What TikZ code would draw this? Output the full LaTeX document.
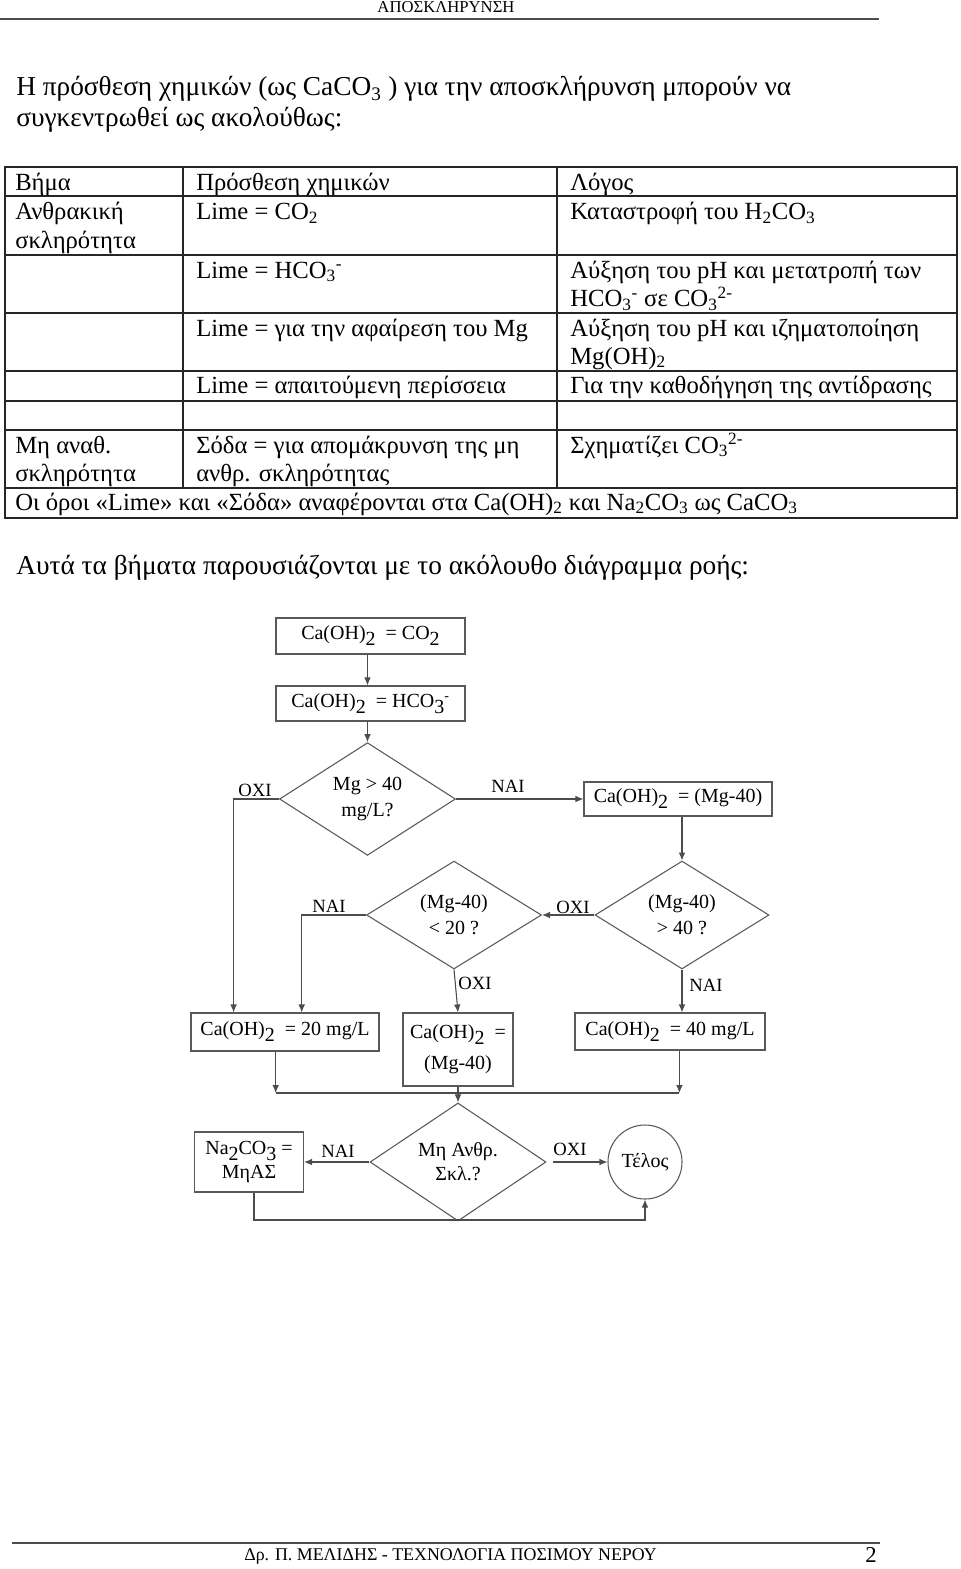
\documentclass[tikz,border=0pt]{standalone}
\usepackage{fontspec}
\setmainfont{Liberation Serif}
\usepackage{graphicx}
\usetikzlibrary{arrows.meta,shapes.geometric}
\newcommand\dn[1]{\raisebox{-0.3em}{#1}}
\newcommand\ssub[1]{\textsubscript{#1}}
\newcommand\ssup[1]{\textsuperscript{#1}}
\begin{document}
\begin{tikzpicture}[x=0.75pt,y=-0.75pt,
  tline/.style={line width=1.1pt,black!85},
  tcell/.style={anchor=base west,inner sep=0pt,font=\fontsize{18.5}{22}\selectfont},
  body/.style={anchor=base west,inner sep=0pt,font=\fontsize{20.5}{24}\selectfont},
  fbox/.style={draw=black!65,line width=0.8pt,inner sep=0pt,align=center,font=\fontsize{15}{19}\selectfont},
  fdia/.style={draw=black!65,line width=0.8pt,shape=diamond,inner sep=0pt,align=center,font=\fontsize{15}{19.5}\selectfont},
  flab/.style={inner sep=0pt,font=\fontsize{14}{16}\selectfont},
  conn/.style={draw=black!70,line width=0.8pt},
  arr/.style={conn,-{Latex[length=6pt,width=5pt]}}
]
\useasboundingbox (0,0) rectangle (960,1569);
% header
\node[anchor=base,inner sep=0pt,font=\fontsize{12.5}{14}\selectfont] (hdr) at (446,13) {ΑΠΟΣΚΛΗΡΥΝΣΗ};
\draw[line width=1.1pt,black!70] (0,19) -- (879,19);
% intro
\node[body] (p1) at (16,96) {Η πρόσθεση χημικών (ως CaCO\ssub{3} ) για την αποσκλήρυνση μπορούν να};
\node[body] (p2) at (16,127) {συγκεντρωθεί ως ακολούθως:};
% table
\draw[tline] (5,167) rectangle (957,518);
\foreach \yy in {196,255,313,371,401,430,488} \draw[tline] (5,\yy) -- (957,\yy);
\draw[tline] (183,167) -- (183,488);
\draw[tline] (557,167) -- (557,488);
\node[tcell] (t11) at (15,190.7) {Βήμα};
\node[tcell] (t12) at (196,190.7) {Πρόσθεση χημικών};
\node[tcell] (t13) at (570,190.7) {Λόγος};
\node[tcell] (t21) at (15,220) {Ανθρακική};
\node[tcell] (t21b) at (15,248.3) {σκληρότητα};
\node[tcell] (t22) at (196,220) {Lime = CO\ssub{2}};
\node[tcell] (t23) at (570,220) {Καταστροφή του H\ssub{2}CO\ssub{3}};
\node[tcell] (t32) at (196,278.3) {Lime = HCO\ssub{3}\ssup{-}};
\node[tcell] (t33) at (570,278.3) {Αύξηση του pH και μετατροπή των};
\node[tcell] (t33b) at (570,306.6) {HCO\ssub{3}\ssup{-} σε CO\ssub{3}\ssup{2-}};
\node[tcell] (t42) at (196,336) {Lime = για την αφαίρεση του Mg};
\node[tcell] (t43) at (570,336) {Αύξηση του pH και ιζηματοποίηση};
\node[tcell] (t43b) at (570,364.3) {Mg(OH)\ssub{2}};
\node[tcell] (t52) at (196,393.3) {Lime = απαιτούμενη περίσσεια};
\node[tcell] (t53) at (570,393.3) {Για την καθοδήγηση της αντίδρασης};
\node[tcell] (t71) at (15,453.3) {Μη αναθ.};
\node[tcell] (t71b) at (15,481.7) {σκληρότητα};
\node[tcell] (t72) at (196,453.3) {Σόδα = για απομάκρυνση της μη};
\node[tcell] (t72b) at (196,481.7) {ανθρ. σκληρότητας};
\node[tcell] (t73) at (570,453.3) {Σχηματίζει CO\ssub{3}\ssup{2-}};
\node[tcell] (t81) at (15,510) {Οι όροι «Lime» και «Σόδα» αναφέρονται στα Ca(OH)\ssub{2} και Na\ssub{2}CO\ssub{3} ως CaCO\ssub{3}};
\node[body] (p3) at (16,574) {Αυτά τα βήματα παρουσιάζονται με το ακόλουθο διάγραμμα ροής:};
% flowchart
\node[fbox,minimum width=141.75pt,minimum height=27pt] (B1) at (370.5,636) {Ca(OH)\dn{2}\ \ = CO\dn{2}};
\node[fbox,minimum width=141.75pt,minimum height=26.25pt] (B2) at (370.5,703.5) {Ca(OH)\dn{2}\ \ = HCO\dn{3}\ssup{-}};
\node[fdia,minimum width=132pt,minimum height=66pt] (D1) at (367.5,799) {Mg > 40\\mg/L?};
\node[fbox,minimum width=141pt,minimum height=25.5pt] (B3) at (678,799) {Ca(OH)\dn{2}\ \ = (Mg-40)};
\node[fdia,minimum width=131.25pt,minimum height=66.75pt] (D2) at (454,915) {(Mg-40)\\< 20 ?};
\node[fdia,minimum width=130.5pt,minimum height=66.75pt] (D3) at (682,915) {(Mg-40)\\> 40 ?};
\node[fbox,minimum width=141pt,minimum height=28.5pt] (B4) at (285,1032) {Ca(OH)\dn{2}\ \ = 20 mg/L};
\node[fbox,minimum width=82.5pt,minimum height=54.75pt,font=\fontsize{15}{23}\selectfont] (B5) at (458,1049.5) {Ca(OH)\dn{2}\ \ =\\(Mg-40)};
\node[fbox,minimum width=142.5pt,minimum height=27.75pt] (B6) at (670,1031.5) {Ca(OH)\dn{2}\ \ = 40 mg/L};
\node[fdia,minimum width=132pt,minimum height=67.5pt,font=\fontsize{15}{18}\selectfont] (D4) at (458,1162) {Μη Ανθρ.\\Σκλ.?};
\node[fbox,minimum width=81.75pt,minimum height=45pt,font=\fontsize{15}{17.5}\selectfont] (B7) at (249,1162) {Na\dn{2}CO\dn{3} =\\ΜηΑΣ};
\node[draw=black!65,line width=0.8pt,circle,minimum size=55.5pt,inner sep=0pt,font=\fontsize{15}{19}\selectfont] (C) at (645,1162) {Τέλος};
\coordinate (jL) at (275.7,1093);
\coordinate (jR) at (679.4,1093);
\coordinate (kL) at (254,1220);
\coordinate (kR) at (645,1220);
% connectors
\draw[arr] (B1.south -| D1.north) -- (B2.north -| D1.north);
\draw[arr] (B2.south -| D1.north) -- (D1.north);
\draw[arr] (D1.east) -- (B3.west);
\draw[arr] (D1.west) -- (233.6,799) -- (B4.north -| 233.6,0);
\draw[arr] (B3.south -| D3.north) -- (D3.north);
\draw[arr] (D3.west) -- (D2.east);
\draw[arr] (D2.west) -- (301.7,915) -- (B4.north -| 301.7,0);
\draw[arr] (D2.south) -- (B5.north);
\draw[arr] (D3.south) -- (B6.north -| D3.south);
\draw[arr] (B4.south -| jL) -- (jL);
\draw[arr] (B6.south -| jR) -- (jR);
\draw[conn] (jL) -- (jR);
\draw[arr] (B5.south) -- (D4.north);
\draw[arr] (D4.west) -- (B7.east);
\draw[arr] ([xshift=4.5pt]D4.east) -- (C.west);
\draw[arr] (B7.south -| kL) -- (kL) -- (kR) -- (C.south);
% labels
\node[flab] (lOXI1) at (255,790) {ΟΧΙ};
\node[flab] (lNAI1) at (508,786) {ΝΑΙ};
\node[flab] (lNAI2) at (329,906) {ΝΑΙ};
\node[flab] (lOXI2) at (573,907) {ΟΧΙ};
\node[flab] (lOXI3) at (475,983) {ΟΧΙ};
\node[flab] (lNAI3) at (706,985) {ΝΑΙ};
\node[flab] (lNAI4) at (338,1151) {ΝΑΙ};
\node[flab] (lOXI4) at (570,1149) {ΟΧΙ};
% footer
\draw[line width=1.1pt,black!70] (12,1543) -- (880,1543);
\node[anchor=base west,inner sep=0pt,font=\fontsize{13.4}{15}\selectfont] (ftr) at (244,1560) {Δρ. Π. ΜΕΛΙΔΗΣ - ΤΕΧΝΟΛΟΓΙΑ ΠΟΣΙΜΟΥ ΝΕΡΟΥ};
\node[anchor=base east,inner sep=0pt,font=\fontsize{17}{20}\selectfont] (pg) at (877,1562) {2};
\end{tikzpicture}
\end{document}
